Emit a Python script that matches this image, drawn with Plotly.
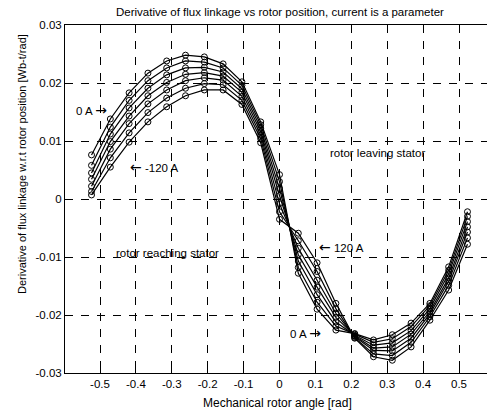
import plotly.graph_objects as go

# Mechanical rotor angle samples [rad] (3 deg steps)
angle = [-0.5236, -0.4712, -0.4189, -0.3665, -0.3142, -0.2618, -0.2094, -0.1571,
         -0.1047, -0.0524, 0.0, 0.0524, 0.1047, 0.1571, 0.2094, 0.2618, 0.3142,
         0.3665, 0.4189, 0.4712, 0.5236]

# Derivative of flux linkage [Wb-t/rad], one curve per current magnitude
i_0 = [.0076, .0138, .0183, .0217, .0238, .0248, .0245, .0233, .0202, .0133, .0042,
       -.0128, -.0190, -.0226, -.0232, -.0243, -.0234, -.0214, -.0180, -.0117, -.0022]
i_20 = [.0058, .0124, .0170, .0204, .0226, .0238, .0236, .0226, .0196, .0128, .0030,
        -.0118, -.0178, -.0219, -.0233, -.0247, -.0241, -.0220, -.0184, -.0123, -.0030]
i_40 = [.0045, .0112, .0157, .0191, .0214, .0226, .0227, .0219, .0190, .0122, .0018,
        -.0107, -.0165, -.0212, -.0235, -.0252, -.0248, -.0227, -.0189, -.0129, -.0039]
i_60 = [.0034, .0099, .0143, .0178, .0201, .0215, .0218, .0212, .0184, .0116, .0006,
        -.0096, -.0152, -.0204, -.0236, -.0257, -.0255, -.0233, -.0194, -.0136, -.0048]
i_80 = [.0022, .0086, .0130, .0164, .0188, .0204, .0209, .0205, .0177, .0110, -.0008,
        -.0085, -.0140, -.0197, -.0237, -.0261, -.0262, -.0240, -.0198, -.0142, -.0057]
i_100 = [.0013, .0071, .0114, .0149, .0174, .0191, .0199, .0197, .0170, .0104, -.0022,
         -.0072, -.0125, -.0189, -.0239, -.0267, -.0270, -.0247, -.0203, -.0149, -.0067]
i_120 = [.0007, .0055, .0098, .0133, .0159, .0178, .0188, .0188, .0163, .0097, -.0035,
         -.0059, -.0110, -.0180, -.0240, -.0272, -.0278, -.0255, -.0209, -.0157, -.0078]

series = {"0 A": i_0, "20 A": i_20, "40 A": i_40, "60 A": i_60,
          "80 A": i_80, "100 A": i_100, "120 A": i_120}

x_tickvals = [-0.5, -0.4, -0.3, -0.2, -0.1, 0, 0.1, 0.2, 0.3, 0.4, 0.5]
x_ticktext = ["-0.5", "-0.4", "-0.3", "-0.2", "-0.1", "0", "0.1", "0.2", "0.3", "0.4", "0.5"]
y_tickvals = [-0.03, -0.02, -0.01, 0, 0.01, 0.02, 0.03]
y_ticktext = ["-0.03", "-0.02", "-0.01", "0", "0.01", "0.02", "0.03"]

FONT = "Liberation Sans, Arial, sans-serif"

fig = go.Figure()
for name, vals in series.items():
    fig.add_trace(go.Scatter(
        x=angle, y=vals, mode="lines+markers", name=name,
        line=dict(color="black", width=1.2),
        marker=dict(symbol="circle-open", size=6, color="black", line=dict(width=1)),
        showlegend=False))

W, H = 487, 412
ml, mt, mb = 65, 25, 39
px_per_unit = 359.0
x0 = -0.5975
x1 = x0 + (W - ml) / px_per_unit

axis_common = dict(
    showline=True, linecolor="black", linewidth=1,
    ticks="inside", ticklen=5, tickcolor="black", tickwidth=1,
    showgrid=True, gridcolor="black", gridwidth=1, griddash="8px,8px",
    zeroline=False, tickfont=dict(family=FONT, size=11.5, color="black"),
)

fig.update_layout(
    width=W, height=H,
    margin=dict(l=ml, r=0, t=mt, b=mb),
    paper_bgcolor="white", plot_bgcolor="white",
    font=dict(family=FONT, color="black", size=11),
    xaxis=dict(range=[x0, x1], tickvals=x_tickvals, ticktext=x_ticktext,
               mirror="ticks", **axis_common),
    yaxis=dict(range=[-0.03, 0.03], tickvals=y_tickvals, ticktext=y_ticktext,
               mirror=False, **axis_common),
)

def ann(text, x, y, size=11.5, **kw):
    fig.add_annotation(text=text, x=x, y=y, xref="x", yref="y", showarrow=False,
                       font=dict(family=FONT, size=size, color="black"), **kw)

RA = "<span style='font-family:DejaVu Sans;font-size:14px'>\u2192</span>"
LA = "<span style='font-family:DejaVu Sans;font-size:14px'>\u2190</span>"

ann("0 A " + RA, -0.525, 0.0153)
ann(LA + " -120 A", -0.347, 0.0055)
ann("rotor leaving stator", 0.272, 0.0079)
ann("rotor reaching stator", -0.313, -0.0093)
ann(LA + " 120 A", 0.173, -0.0083)
ann("0 A " + RA, 0.072, -0.0231)

# title and axis labels
fig.add_annotation(text="Derivative of flux linkage vs rotor position, current is a parameter",
                   x=(279.5 - ml) / (W - ml), y=1, xref="paper", yref="paper",
                   yshift=13, showarrow=False, yanchor="middle",
                   font=dict(family=FONT, size=11.5, color="black"))
fig.add_annotation(text="Mechanical rotor angle [rad]",
                   x=(277 - ml) / (W - ml), y=0, xref="paper", yref="paper",
                   yshift=-30, showarrow=False, yanchor="middle",
                   font=dict(family=FONT, size=12, color="black"))
fig.add_annotation(text="Derivative of flux linkage w.r.t rotor position [Wb-t/rad]",
                   x=0, y=(373 - 164) / (373 - 25), xref="paper", yref="paper",
                   xshift=-(ml - 22), showarrow=False, textangle=-90,
                   xanchor="center", yanchor="middle",
                   font=dict(family=FONT, size=11, color="black"))

fig.write_html("out.html")
